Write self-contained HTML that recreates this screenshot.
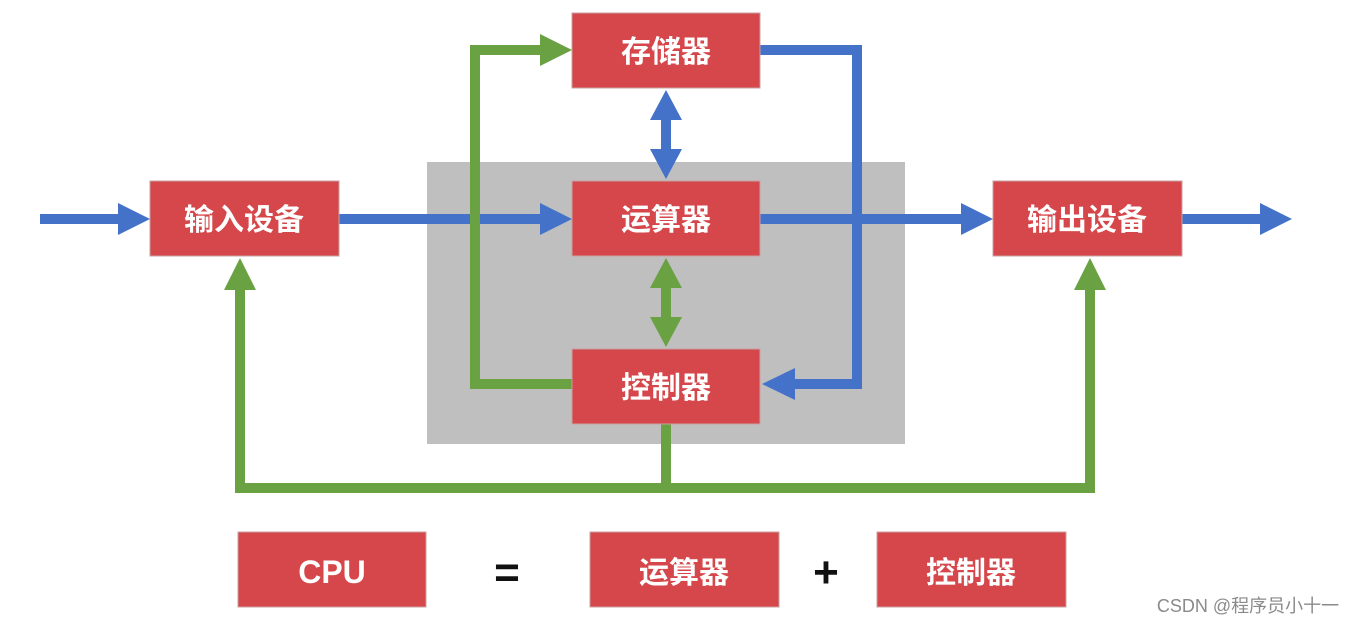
<!DOCTYPE html>
<html><head><meta charset="utf-8"><style>
html,body{margin:0;padding:0;background:#fff;}
svg{display:block;}
text{font-family:"Liberation Sans","Noto Sans CJK SC",sans-serif;font-weight:bold;}
</style></head><body>
<svg width="1358" height="624" viewBox="0 0 1358 624" xmlns="http://www.w3.org/2000/svg">
<rect x="427" y="162" width="478" height="282" fill="#bfbfbf"/>
<g fill="none" stroke-linejoin="miter">
<g stroke="#4472c8" stroke-width="10">
<line x1="40" y1="219" x2="120" y2="219"/>
<line x1="339" y1="219" x2="542" y2="219"/>
<line x1="760" y1="219" x2="962" y2="219"/>
<line x1="1182" y1="219" x2="1262" y2="219"/>
<polyline points="760,50 857,50 857,384 792,384"/>
<line x1="666" y1="110" x2="666" y2="160"/>
</g>
<g stroke="#6aa142" stroke-width="10">
<polyline points="572,384 475,384 475,50 542,50"/>
<line x1="666" y1="278" x2="666" y2="328"/>
<polyline points="240,288 240,488 1090,488 1090,288"/>
<line x1="666" y1="424" x2="666" y2="488"/>
</g>
</g>
<g fill="#4472c8">
<polygon points="118,203 150,219 118,235"/>
<polygon points="540,203 572,219 540,235"/>
<polygon points="961,203 993,219 961,235"/>
<polygon points="1260,203 1292,219 1260,235"/>
<polygon points="795,368 762,384 795,400"/>
<polygon points="666,90 682,120 650,120"/>
<polygon points="666,179 682,149 650,149"/>
</g>
<g fill="#6aa142">
<polygon points="540,34 572,50 540,66"/>
<polygon points="666,258 682,288 650,288"/>
<polygon points="666,347 682,317 650,317"/>
<polygon points="240,258 256,290 224,290"/>
<polygon points="1090,258 1106,290 1074,290"/>
</g>
<g fill="#d5474a" stroke="#c9a0a0" stroke-width="1">
<rect x="572" y="13" width="188" height="75"/>
<rect x="572" y="181" width="188" height="75"/>
<rect x="572" y="349" width="188" height="75"/>
<rect x="150" y="181" width="189" height="75"/>
<rect x="993" y="181" width="189" height="75"/>
<rect x="238" y="532" width="188" height="75"/>
<rect x="590" y="532" width="189" height="75"/>
<rect x="877" y="532" width="189" height="75"/>
</g>
<g fill="#fff" font-size="30" text-anchor="middle">
<text x="666" y="62">存储器</text>
<text x="666" y="230">运算器</text>
<text x="666" y="398">控制器</text>
<text x="244" y="230">输入设备</text>
<text x="1087" y="230">输出设备</text>
<text x="332" y="583" font-size="32">CPU</text>
<text x="684" y="583">运算器</text>
<text x="971" y="583">控制器</text>
</g>
<g fill="#111" font-size="44" text-anchor="middle">
<text x="507" y="587">=</text>
<text x="826" y="587">+</text>
</g>
<text x="1248" y="612" fill="#8a8a8a" font-size="18" text-anchor="middle" style="font-weight:normal">CSDN @程序员小十一</text>
</svg>
</body></html>
